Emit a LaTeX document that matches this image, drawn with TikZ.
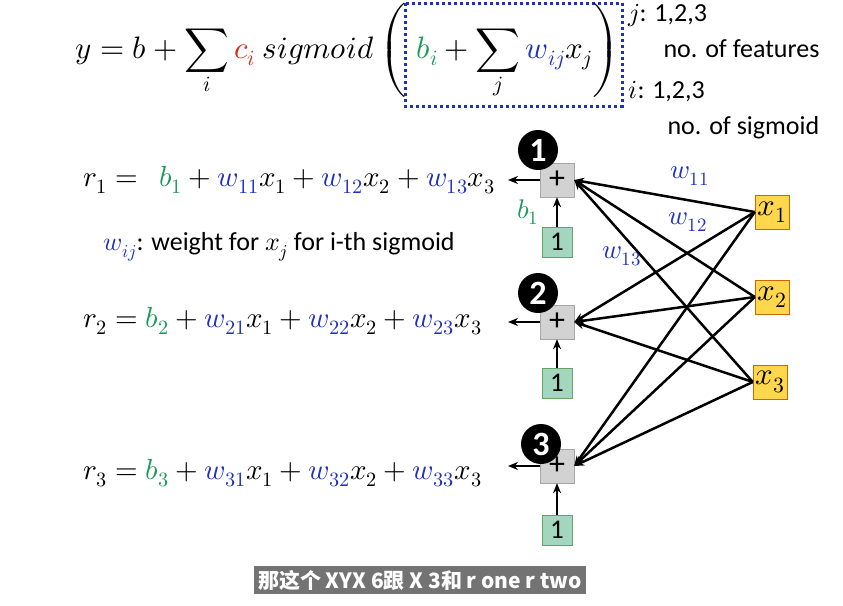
\documentclass[tikz,border=0pt]{standalone}
\usepackage{fontspec}
\usepackage{unicode-math}
\setmainfont{Carlito}
\setmathfont{Latin Modern Math}
\newfontfamily\cjk{Noto Sans CJK SC}
\usetikzlibrary{arrows.meta}
\definecolor{gn}{HTML}{1A9A5A}
\definecolor{bl}{HTML}{1F2FBF}
\definecolor{rd}{HTML}{D03020}
\begin{document}
\begin{tikzpicture}[x=1pt,y=-1pt,
  plus/.style={draw=gray!70,fill=gray!35,minimum size=34pt,inner sep=0pt,font=\fontsize{32}{34}\selectfont},
  one/.style={draw=green!40!black!60,fill=gn!40,minimum size=30pt,inner sep=0pt,font=\fontsize{27}{30}\selectfont},
  xin/.style={draw=orange!80!black,fill=orange!45!yellow!70,minimum size=34pt,inner sep=0pt,font=\fontsize{31}{32}\selectfont},
  num/.style={circle,fill=black,text=white,minimum size=40pt,inner sep=0pt,font=\bfseries\fontsize{34}{36}\selectfont},
  ar/.style={-{Stealth[length=10pt,width=8pt]},line width=2.5pt},
  eq/.style={anchor=west,font=\fontsize{29}{32}\selectfont},
  lbl/.style={font=\fontsize{27}{28}\selectfont},
  txt/.style={anchor=west,font=\fontsize{26}{28}\selectfont}]
\useasboundingbox (0,0) rectangle (843,605);
\fill[white] (0,0) rectangle (843,605);
% top formula
\node[eq,anchor=base west,font=\fontsize{31}{34}\selectfont] (top) at (72,58) {$y=b+\displaystyle\sum_i \textcolor{rd}{c_i}\ sigmoid\left(\vphantom{\sum_j}\right.$};
\draw[bl,line width=3pt,dash pattern=on 3pt off 3pt] (405,3) rectangle (622,106);
\node[eq,anchor=base west,font=\fontsize{31}{34}\selectfont] (inner) at (412,58) {$\displaystyle\left.\vphantom{\sum_j}\textcolor{gn}{b_i}+\sum_j \textcolor{bl}{w_{ij}}x_j\right)$};
\node[txt] (j) at (625,16) {$j$: 1,2,3};
\node[txt] (nf) at (660,49) {no. of features};
\node[txt] (i) at (625,92) {$i$: 1,2,3};
\node[txt] (ns) at (664,128) {no. of sigmoid};
% equations
\node[eq] (r1) at (80,180) {$r_1=\ \ \textcolor{gn}{b_1}+\textcolor{bl}{w_{11}}x_1+\textcolor{bl}{w_{12}}x_2+\textcolor{bl}{w_{13}}x_3$};
\node[eq] (r2) at (80,321) {$r_2=\textcolor{gn}{b_2}+\textcolor{bl}{w_{21}}x_1+\textcolor{bl}{w_{22}}x_2+\textcolor{bl}{w_{23}}x_3$};
\node[eq] (r3) at (80,473) {$r_3=\textcolor{gn}{b_3}+\textcolor{bl}{w_{31}}x_1+\textcolor{bl}{w_{32}}x_2+\textcolor{bl}{w_{33}}x_3$};
\node[txt] (note) at (100,247) {$\textcolor{bl}{w_{ij}}$: weight for $x_j$ for i-th sigmoid};
% network
\foreach \k/\y/\oy/\cx/\cy in {1/180/242/538/150, 2/322/383/538/293, 3/466/530/541/444}{
  \node[plus] (p\k) at (557,\y) {+};
  \node[one] (o\k) at (557,\oy) {1};
  \node[num] (c\k) at (\cx,\cy) {\k};
  \coordinate (e\k) at (508,\y);
  \draw[ar] (p\k.west) -- (e\k);
  \draw[ar] (o\k.north) -- (p\k.south);
}
\node[xin] (x1) at (772,212) {$x_1$};
\node[xin] (x2) at (772,297) {$x_2$};
\node[xin] (x3) at (770,382) {$x_3$};
\foreach \j in {1,2,3}{\foreach \k in {1,2,3}{
  \draw[ar] (x\j.west) -- (p\k.east);
}}
\node[lbl,text=bl] (w11) at (690,176) {$w_{11}$};
\node[lbl,text=bl] (w12) at (688,222) {$w_{12}$};
\node[lbl,text=bl] (w13) at (622,256) {$w_{13}$};
\node[lbl,text=gn] (b1) at (528,212) {$b_1$};
% subtitle
\node[fill=black!55,text=white,font=\cjk\bfseries\fontsize{21}{24}\selectfont,inner sep=4pt] (sub) at (420,580) {那这个 XYX 6跟 X 3和 r one r two};
\end{tikzpicture}
\end{document}
